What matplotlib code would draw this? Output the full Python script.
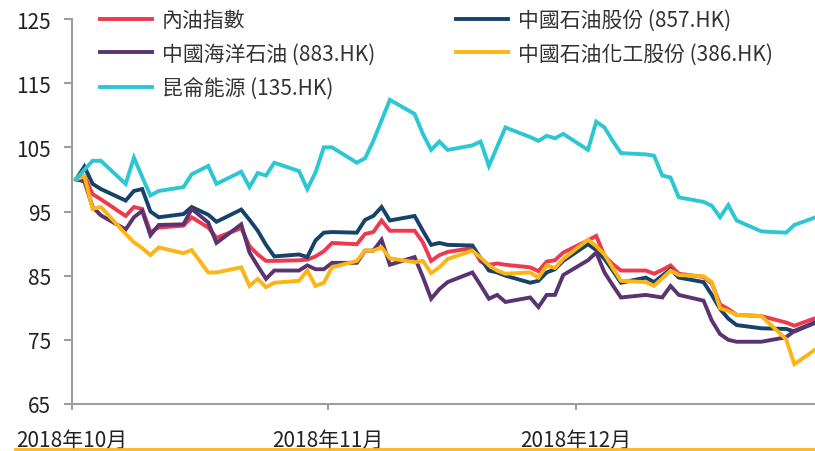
import pandas as pd
import matplotlib
matplotlib.use("Agg")
import matplotlib.pyplot as plt
from matplotlib.lines import Line2D

# traditional chinese font first, DejaVu as fallback
plt.rcParams["font.family"] = ["Noto Sans CJK TC", "DejaVu Sans"]

# --------------------------------------------------------------------
# Data (rebased to 100 on 2018-10-02, HK trading days)
# --------------------------------------------------------------------
days = [
    "2018-10-02", "2018-10-03", "2018-10-04", "2018-10-05", "2018-10-08",
    "2018-10-09", "2018-10-10", "2018-10-11", "2018-10-12", "2018-10-15",
    "2018-10-16", "2018-10-18", "2018-10-19", "2018-10-22", "2018-10-23",
    "2018-10-24", "2018-10-25", "2018-10-26", "2018-10-29", "2018-10-30",
    "2018-10-31",
    "2018-11-01", "2018-11-02", "2018-11-05", "2018-11-06", "2018-11-07",
    "2018-11-08", "2018-11-09", "2018-11-12", "2018-11-13", "2018-11-14",
    "2018-11-15", "2018-11-16", "2018-11-19", "2018-11-20", "2018-11-21",
    "2018-11-22", "2018-11-23", "2018-11-26", "2018-11-27", "2018-11-28",
    "2018-11-29", "2018-11-30",
    "2018-12-03", "2018-12-04", "2018-12-05", "2018-12-06", "2018-12-07",
    "2018-12-10", "2018-12-11", "2018-12-12", "2018-12-13", "2018-12-14",
    "2018-12-17", "2018-12-18", "2018-12-19", "2018-12-20", "2018-12-21",
    "2018-12-24", "2018-12-27", "2018-12-28", "2018-12-31",
]

oil_index = [
    100, 100.5, 97.7, 96.9, 94.3, 95.7, 95.4, 91.8, 92.5, 92.8, 94.1, 92.5,
    90.9, 92.4, 89.6, 88.3, 87.3, 87.3, 87.4, 87.5, 88.0,
    88.8, 90.1, 89.9, 91.5, 91.8, 93.6, 92.0, 92.0, 90.2, 87.3, 88.2, 88.7,
    89.3, 87.2, 86.7, 86.9, 86.7, 86.3, 85.7, 87.2, 87.4, 88.6,
    90.5, 91.2, 88.1, 86.8, 85.8, 85.8, 85.3, 85.9, 86.6, 85.3, 84.8, 83.8,
    80.5, 79.8, 78.9, 78.7, 77.7, 77.2, 78.6,
]

petrochina = [
    100, 102.0, 99.3, 98.5, 96.7, 98.2, 98.5, 95.0, 94.1, 94.6, 95.7, 94.5,
    93.4, 95.3, 93.7, 92.0, 89.8, 88.0, 88.3, 87.9, 90.5,
    91.7, 91.8, 91.7, 93.7, 94.3, 95.7, 93.6, 94.3, 92.0, 89.8, 90.1, 89.8,
    89.7, 87.7, 85.8, 85.5, 85.0, 83.9, 84.2, 85.5, 86.0, 87.3,
    89.9, 89.0, 87.6, 85.8, 83.9, 84.7, 84.0, 85.0, 86.0, 84.7, 84.0, 82.0,
    79.8, 78.3, 77.3, 76.8, 76.7, 76.3, 77.9,
]

cnooc = [
    100, 99.7, 95.7, 94.4, 92.2, 94.1, 95.1, 91.3, 92.9, 93.0, 95.4, 93.3,
    90.1, 93.0, 88.6, 86.5, 84.5, 85.8, 85.8, 86.6, 86.0,
    86.0, 87.0, 87.0, 88.9, 88.9, 90.6, 86.7, 87.9, 84.8, 81.4, 82.9, 84.0,
    85.5, 83.5, 81.4, 82.0, 80.9, 81.6, 80.1, 82.0, 82.0, 85.1,
    87.4, 88.6, 85.5, 83.5, 81.6, 82.0, 81.8, 81.6, 83.4, 82.0, 81.1, 78.0,
    75.9, 75.0, 74.7, 74.7, 75.4, 76.4, 78.0,
]

sinopec = [
    100, 100.5, 95.4, 95.7, 91.5, 90.2, 89.3, 88.2, 89.4, 88.5, 89.0, 85.5,
    85.5, 86.3, 83.4, 84.5, 83.2, 83.9, 84.2, 85.8, 83.4,
    83.9, 86.3, 87.3, 88.9, 88.9, 89.4, 87.7, 87.1, 87.3, 85.4, 86.3, 87.6,
    88.9, 87.8, 86.6, 85.8, 85.3, 85.5, 84.7, 86.6, 86.2, 87.6,
    90.6, 89.6, 88.3, 86.2, 84.2, 84.0, 83.4, 84.6, 85.8, 85.1, 84.9, 84.0,
    79.9, 79.5, 78.9, 78.7, 75.1, 71.2, 73.9,
]

kunlun = [
    100, 101.5, 102.9, 102.9, 99.3, 103.4, 100.4, 97.5, 98.2, 98.8, 100.8,
    102.1, 99.3, 101.2, 98.8, 101.0, 100.6, 102.6, 101.3, 98.5, 101.1,
    105.0, 105.0, 102.6, 103.3, 106.0, 109.2, 112.4, 110.2, 107.1, 104.6,
    105.9, 104.6, 105.3, 105.9, 102.1, 105.1, 108.1, 106.6, 106.0, 106.8,
    106.4, 107.1,
    104.6, 109.0, 108.1, 106.0, 104.1, 103.9, 103.7, 100.6, 100.3, 97.2,
    96.5, 95.9, 94.1, 96.0, 93.6, 91.9, 91.7, 92.9, 94.3,
]

labels = ["內油指數", "中國石油股份 (857.HK)", "中國海洋石油 (883.HK)",
          "中國石油化工股份 (386.HK)", "昆侖能源 (135.HK)"]
month_labels = ["2018年10月", "2018年11月", "2018年12月"]

dates = pd.to_datetime(days)

# --------------------------------------------------------------------
# Style
# --------------------------------------------------------------------
red = "#EE3A50"
navy = "#17426A"
purple = "#5A3470"
yellow = "#FDB515"
cyan = "#2DC7D4"
grey = "#9E9E9E"
txt = "#222222"

fig = plt.figure(figsize=(8.15, 4.52), dpi=100)
ax = fig.add_axes([72 / 815, 1 - 405 / 452, 1 - 72 / 815, 385 / 452])

series = [oil_index, petrochina, cnooc, sinopec, kunlun]
colours = [red, navy, purple, yellow, cyan]
lines = []
for vals, col, lab in zip(series, colours, labels):
    ln, = ax.plot(dates, vals, color=col, lw=2.8, label=lab,
                  solid_joinstyle="miter")
    lines.append(ln)

# --------------------------------------------------------------------
# Axes
# --------------------------------------------------------------------
ax.set_ylim(65, 125)
ax.set_yticks(range(65, 126, 10))
ax.set_xlim(pd.Timestamp("2018-10-01 12:00"), pd.Timestamp("2018-12-30 12:00"))
ax.set_xticks([pd.Timestamp("2018-10-01 12:00"),
               pd.Timestamp("2018-11-01 12:00"),
               pd.Timestamp("2018-12-01 12:00")])
ax.set_xticklabels(month_labels)

for s in ["top", "right"]:
    ax.spines[s].set_visible(False)
for s in ["left", "bottom"]:
    ax.spines[s].set_color(grey)
    ax.spines[s].set_linewidth(1.5)

ax.tick_params(axis="y", length=6, width=1.5, color=grey, pad=9,
               labelsize=15, labelcolor=txt)
ax.tick_params(axis="x", length=4, width=1.5, color=grey, pad=14,
               labelsize=15, labelcolor=txt)

# legend, row-major like the original (red, navy / purple, yellow / cyan)
order = [0, 2, 4, 1, 3]
ax.legend([lines[i] for i in order], [labels[i] for i in order],
          ncol=2, loc="upper left", bbox_to_anchor=(0.013, 1.075),
          frameon=False, fontsize=15, handlelength=2.5, handletextpad=0.45,
          labelspacing=0.57, columnspacing=3.9, labelcolor="#333333")

# yellow rule along the bottom
fig.add_artist(Line2D([15 / 815, 1], [1 - 450 / 452, 1 - 450 / 452],
                      color=yellow, lw=2))

fig.savefig("out.png", dpi=100)
